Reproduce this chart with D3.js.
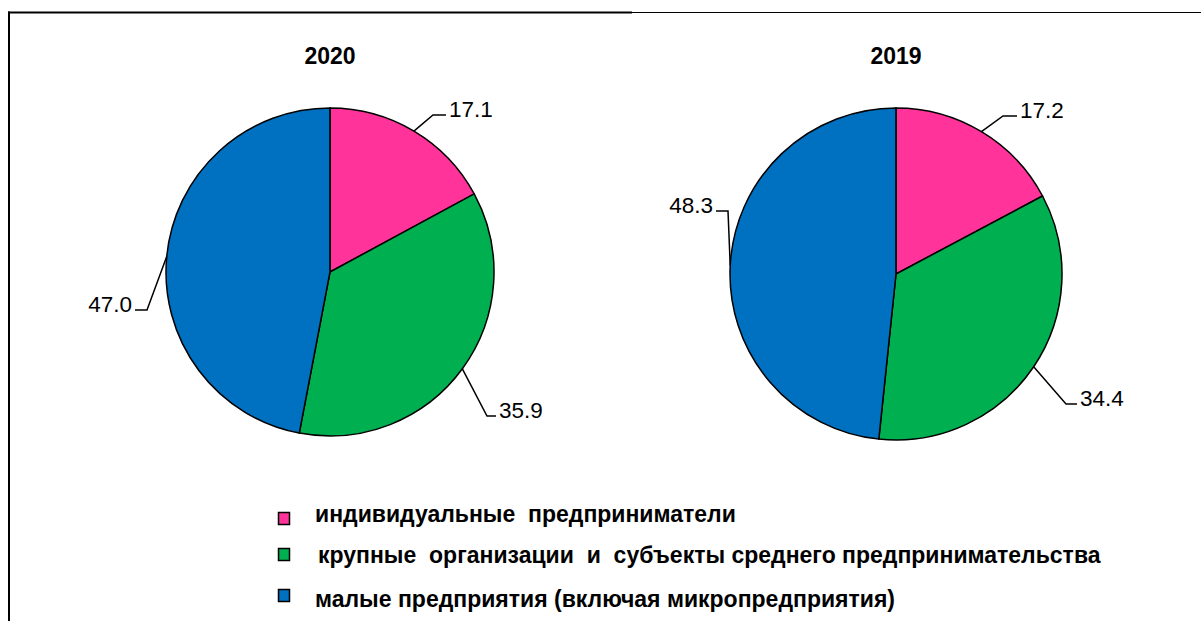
<!DOCTYPE html>
<html>
<head>
<meta charset="utf-8">
<script src="https://cdn.jsdelivr.net/npm/d3@7"></script>
<style>
  html, body { margin: 0; padding: 0; background: #fff; }
  svg { display: block; font-family: Arial, 'Liberation Sans', sans-serif; }
</style>
</head>
<body>
<div id="chart"></div>
<script>
// Structure of small business sector, % – two pies (2020, 2019)
const categories = [
  'индивидуальные  предприниматели',
  'крупные  организации  и  субъекты среднего предпринимательства',
  'малые предприятия (включая микропредприятия)'
]
const colors = ['#FF3399', '#00B050', '#0070C0']
const years = ['2020', '2019']
const values2020 = [17.1, 35.9, 47.0]
const values2019 = [17.2, 34.4, 48.3]

// Layout for each pie: centre, radius and where each label sits
// (elbow of the leader line, relative to the pie centre; side the text goes)
const pieLayout = [
  {
    cx: 330, cy: 272, r: 164,
    labels: [
      { ex: 103, ey: -157, side: 1, len: 13 },
      { ex: 157, ey: 144, side: 1, len: 9 },
      { ex: -183, ey: 38, side: -1, len: 12 }
    ]
  },
  {
    cx: 896, cy: 274, r: 166,
    labels: [
      { ex: 107, ey: -158, side: 1, len: 14 },
      { ex: 170, ey: 130, side: 1, len: 11 },
      { ex: -168, ey: -63, side: -1, len: 12 }
    ]
  }
]

const width = 1201
const height = 621

const svg = d3
  .select('#chart')
  .append('svg')
  .attr('width', width)
  .attr('height', height)

// Frame: thick top-left part, thin continuation on the right
svg.append('line')
  .attr('x1', 8).attr('y1', 12.5).attr('x2', 632).attr('y2', 12.5)
  .attr('stroke', '#000').attr('stroke-width', 2)
svg.append('line')
  .attr('x1', 632).attr('y1', 12.5).attr('x2', width).attr('y2', 12.5)
  .attr('stroke', '#000').attr('stroke-width', 1)
svg.append('line')
  .attr('x1', 9).attr('y1', 11.5).attr('x2', 9).attr('y2', height)
  .attr('stroke', '#000').attr('stroke-width', 2)

const pie = d3.pie().sort(null).value((d) => d)
const seriesList = [values2020, values2019]

seriesList.forEach((values, i) => {
  const lay = pieLayout[i]
  const g = svg.append('g').attr('transform', `translate(${lay.cx},${lay.cy})`)
  const arcs = pie(values)
  const arc = d3.arc().innerRadius(0).outerRadius(lay.r)
  const edge = d3.arc().innerRadius(lay.r).outerRadius(lay.r)

  // Title
  svg.append('text')
    .attr('x', lay.cx)
    .attr('y', 64)
    .attr('text-anchor', 'middle')
    .attr('font-size', 23)
    .attr('font-weight', 'bold')
    .text(years[i])

  // Slices
  g.selectAll('path.slice')
    .data(arcs)
    .join('path')
    .attr('class', 'slice')
    .attr('d', arc)
    .attr('fill', (d, j) => colors[j])
    .attr('stroke', '#000')
    .attr('stroke-width', 1.5)

  // Leader lines and value labels
  arcs.forEach((d, j) => {
    const lb = lay.labels[j]
    const [sx, sy] = edge.centroid(d)
    const endX = lb.ex + lb.side * lb.len
    g.append('polyline')
      .attr('points', `${sx},${sy} ${lb.ex},${lb.ey} ${endX},${lb.ey}`)
      .attr('fill', 'none')
      .attr('stroke', '#000')
      .attr('stroke-width', 1.5)
    g.append('text')
      .attr('x', endX + lb.side * 3)
      .attr('y', lb.ey + 2)
      .attr('text-anchor', lb.side > 0 ? 'start' : 'end')
      .attr('font-size', 22.5)
      .text(d3.format('.1f')(d.data))
  })
})

// Legend
const legendRows = [
  { sy: 512, tx: 315, ty: 522 },
  { sy: 548, tx: 318, ty: 563 },
  { sy: 589, tx: 315, ty: 607 }
]
const legend = svg.append('g')
legend.selectAll('rect')
  .data(categories)
  .join('rect')
  .attr('x', 278.5)
  .attr('y', (d, i) => legendRows[i].sy + 0.5)
  .attr('width', 11)
  .attr('height', 12)
  .attr('fill', (d, i) => colors[i])
  .attr('stroke', '#000')
  .attr('stroke-width', 1.5)
legend.selectAll('text')
  .data(categories)
  .join('text')
  .attr('x', (d, i) => legendRows[i].tx)
  .attr('y', (d, i) => legendRows[i].ty)
  .attr('font-size', 23)
  .attr('font-weight', 'bold')
  .style('white-space', 'pre')
  .text((d) => d)
</script>
</body>
</html>
